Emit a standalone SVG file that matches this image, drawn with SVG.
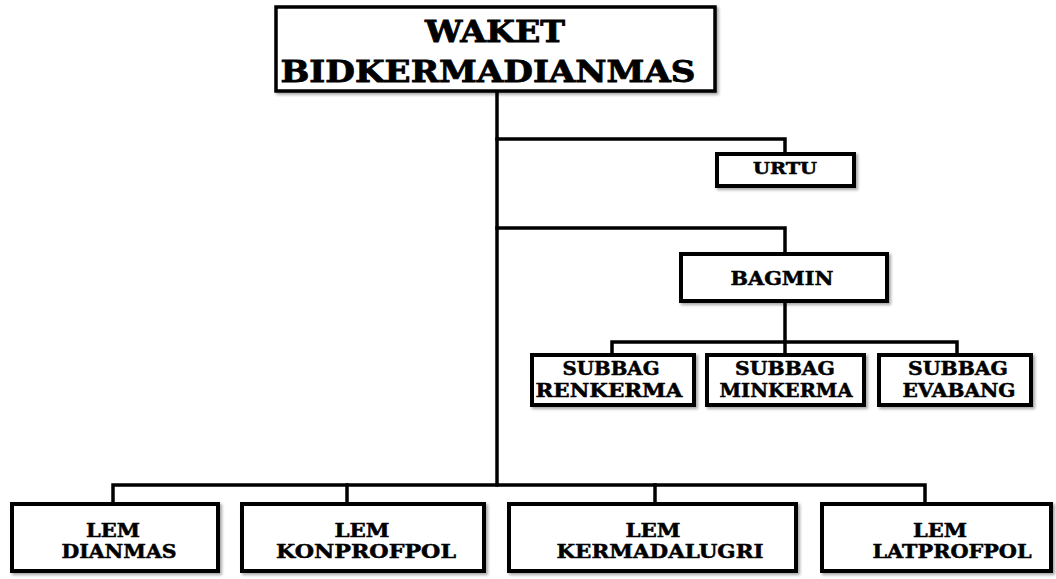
<svg xmlns="http://www.w3.org/2000/svg" width="1056" height="579" viewBox="0 0 1056 579">
<defs>
<filter id="sh" x="-5%" y="-5%" width="115%" height="130%">
<feDropShadow dx="2" dy="2" stdDeviation="1.5" flood-color="#000" flood-opacity="0.35"/>
</filter>
</defs>
<style>
.box{fill:#fff;stroke:#000;stroke-width:4;filter:url(#sh)}
.ln{fill:none;stroke:#000;stroke-width:3.5;stroke-linecap:square}
text{font-family:"DejaVu Serif","Liberation Serif",serif;font-weight:bold;fill:#000;stroke:#000;stroke-width:0.5;text-anchor:middle}
.big{font-size:29px;stroke-width:0.8}
.m{font-size:18px}
.s{font-size:16px}
</style>
<rect width="1056" height="579" fill="#fff"/>
<g id="connectors">
<path class="ln" d="M497 93 V485"/>
<path class="ln" d="M497 139 H785 V152"/>
<path class="ln" d="M497 228 H785 V252"/>
<path class="ln" d="M785 303 V353"/>
<path class="ln" d="M612 353 V342 H957 V353"/>
<path class="ln" d="M113 502 V485 H925 V502"/>
<path class="ln" d="M347 485 V502"/>
<path class="ln" d="M655 485 V502"/>
</g>
<g id="waket">
<rect class="box" x="276" y="7" width="439" height="84" style="stroke-width:3.5"/>
<text class="big" x="495" y="42" textLength="140" lengthAdjust="spacingAndGlyphs">WAKET</text>
<text class="big" x="488" y="82" textLength="415" lengthAdjust="spacingAndGlyphs">BIDKERMADIANMAS</text>
</g>
<g id="urtu">
<rect class="box" x="717" y="154" width="137" height="32"/>
<text class="s" x="785" y="174" textLength="64" lengthAdjust="spacingAndGlyphs">URTU</text>
</g>
<g id="bagmin">
<rect class="box" x="681" y="254" width="206" height="47"/>
<text class="m" x="782" y="285" textLength="103" lengthAdjust="spacingAndGlyphs">BAGMIN</text>
</g>
<g id="subbag-renkerma">
<rect class="box" x="532" y="355" width="162" height="50"/>
<text class="m" x="611" y="375" textLength="97" lengthAdjust="spacingAndGlyphs">SUBBAG</text>
<text class="m" x="609" y="397" textLength="147" lengthAdjust="spacingAndGlyphs">RENKERMA</text>
</g>
<g id="subbag-minkerma">
<rect class="box" x="707" y="355" width="157" height="50"/>
<text class="m" x="785" y="375" textLength="100" lengthAdjust="spacingAndGlyphs">SUBBAG</text>
<text class="m" x="786" y="397" textLength="133" lengthAdjust="spacingAndGlyphs">MINKERMA</text>
</g>
<g id="subbag-evabang">
<rect class="box" x="879" y="355" width="152" height="50"/>
<text class="m" x="958" y="375" textLength="100" lengthAdjust="spacingAndGlyphs">SUBBAG</text>
<text class="m" x="959" y="397" textLength="113" lengthAdjust="spacingAndGlyphs">EVABANG</text>
</g>
<g id="lem-dianmas">
<rect class="box" x="12" y="504" width="206" height="67"/>
<text class="m" x="113" y="537" textLength="54" lengthAdjust="spacingAndGlyphs">LEM</text>
<text class="m" x="119" y="558" textLength="115" lengthAdjust="spacingAndGlyphs">DIANMAS</text>
</g>
<g id="lem-konprofpol">
<rect class="box" x="242" y="504" width="242" height="67"/>
<text class="m" x="362" y="537" textLength="55" lengthAdjust="spacingAndGlyphs">LEM</text>
<text class="m" x="366" y="558" textLength="180" lengthAdjust="spacingAndGlyphs">KONPROFPOL</text>
</g>
<g id="lem-kermadalugri">
<rect class="box" x="509" y="504" width="287" height="67"/>
<text class="m" x="653" y="537" textLength="55" lengthAdjust="spacingAndGlyphs">LEM</text>
<text class="m" x="660" y="558" textLength="207" lengthAdjust="spacingAndGlyphs">KERMADALUGRI</text>
</g>
<g id="lem-latprofpol">
<rect class="box" x="822" y="504" width="229" height="67"/>
<text class="m" x="940" y="537" textLength="54" lengthAdjust="spacingAndGlyphs">LEM</text>
<text class="m" x="952" y="558" textLength="159" lengthAdjust="spacingAndGlyphs">LATPROFPOL</text>
</g>
</svg>
